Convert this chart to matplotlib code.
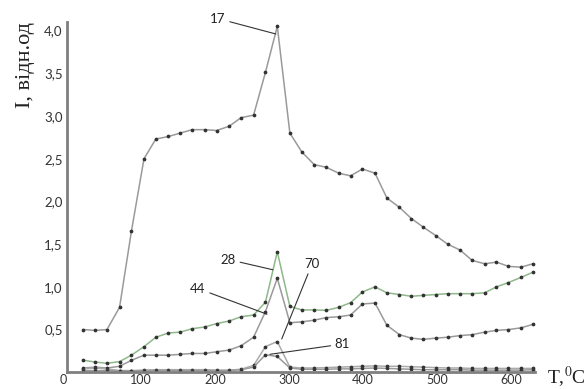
import numpy as np
import matplotlib.pyplot as plt

plt.rcParams['mathtext.fontset'] = 'stix'

# temperatures of the measured points, deg C
temp = [22, 38, 54, 71, 87, 104, 120, 137, 153, 169, 186, 202, 219, 235, 252,
        268, 284, 301, 317, 334, 350, 367, 383, 399, 416, 432, 449, 465, 481,
        498, 514, 531, 547, 564, 580, 596, 613, 629]

# intensities (relative units) for m/z 17, 28, 44, 70, 81
i17 = [0.50, 0.49, 0.50, 0.76, 1.65, 2.50, 2.73, 2.76, 2.80, 2.84, 2.84, 2.83,
       2.88, 2.98, 3.01, 3.51, 4.05, 2.80, 2.58, 2.43, 2.40, 2.33, 2.30, 2.38,
       2.33, 2.04, 1.93, 1.80, 1.70, 1.60, 1.50, 1.43, 1.31, 1.27, 1.29, 1.24,
       1.23, 1.27]
i28 = [0.14, 0.12, 0.105, 0.125, 0.20, 0.30, 0.41, 0.46, 0.47, 0.51, 0.53, 0.57,
       0.60, 0.65, 0.67, 0.82, 1.41, 0.77, 0.73, 0.73, 0.725, 0.76, 0.815, 0.94,
       1.00, 0.93, 0.91, 0.89, 0.90, 0.91, 0.92, 0.92, 0.92, 0.93, 1.00, 1.05,
       1.11, 1.17]
i44 = [0.05, 0.06, 0.05, 0.07, 0.14, 0.20, 0.20, 0.20, 0.21, 0.22, 0.22, 0.24,
       0.26, 0.31, 0.41, 0.71, 1.10, 0.58, 0.59, 0.61, 0.64, 0.65, 0.67, 0.80,
       0.81, 0.55, 0.44, 0.40, 0.385, 0.40, 0.41, 0.43, 0.44, 0.47, 0.49, 0.50,
       0.52, 0.56]
i70 = [0.04, 0.05, 0.04, 0.02, 0.02, 0.025, 0.03, 0.03, 0.03, 0.03, 0.03, 0.025,
       0.025, 0.035, 0.08, 0.30, 0.36, 0.06, 0.05, 0.05, 0.055, 0.06, 0.065,
       0.07, 0.075, 0.07, 0.07, 0.065, 0.06, 0.055, 0.05, 0.05, 0.045, 0.045,
       0.045, 0.045, 0.045, 0.045]
i81 = [0.02, 0.02, 0.02, 0.015, 0.015, 0.02, 0.02, 0.02, 0.02, 0.02, 0.02, 0.02,
       0.02, 0.03, 0.06, 0.205, 0.185, 0.05, 0.035, 0.035, 0.035, 0.04, 0.04,
       0.045, 0.05, 0.045, 0.04, 0.035, 0.03, 0.03, 0.03, 0.03, 0.025, 0.025,
       0.025, 0.025, 0.025, 0.03]

series = [i17, i28, i44, i70, i81]
names = ['17', '28', '44', '70', '81']
colors = ['#9a9a9a', '#8fb88b', '#9a9a9a', '#ababab', '#9a9a9a']

xticks = [0, 100, 200, 300, 400, 500, 600]
yticks = [0.5, 1.0, 1.5, 2.0, 2.5, 3.0, 3.5, 4.0]

fig = plt.figure(figsize=(5.87, 3.89), dpi=100)
ax = fig.add_axes([0.1141, 0.0430, 0.7973, 0.9004])

for vals, c in zip(series, colors):
    ax.plot(temp, vals, color=c, lw=1.1, marker='o', ms=1.7,
            mfc='#333333', mec='#333333', zorder=2)

# curve labels with leader lines
pointer_end = [(282, 3.96), (278, 1.20), (270, 0.68), (290, 0.39), (274, 0.21)]
text_pos = [(204, 4.14), (218, 1.32), (177, 0.98), (331, 1.27), (372, 0.33)]
for name, xy, xt in zip(names, pointer_end, text_pos):
    ax.annotate(name, xy=xy, xytext=xt, ha='center', va='center',
                fontsize=9.5, family='Lato', color='#222222',
                annotation_clip=False,
                arrowprops=dict(arrowstyle='-', color='#333333', lw=0.8,
                                shrinkA=1, shrinkB=0))

ax.set_xlim(0, 632)
ax.set_ylim(0, 4.1)

ax.set_xticks(xticks)
ax.set_xticklabels([str(t) for t in xticks])
ax.set_yticks(yticks)
ax.set_yticklabels([f'{v:.1f}'.replace('.', ',') for v in yticks])
ax.tick_params(length=0, labelsize=9.5, colors='#333333')
ax.tick_params(axis='x', pad=1.5, labelsize=9)
ax.tick_params(axis='y', pad=3)
for lab in ax.get_xticklabels() + ax.get_yticklabels():
    lab.set_family('Lato')
ax.get_xticklabels()[0].set_ha('right')

for s in ['top', 'right']:
    ax.spines[s].set_visible(False)
for s in ['left', 'bottom']:
    ax.spines[s].set_color('#7f7f7f')
    ax.spines[s].set_linewidth(2)

fig.text(0.043, 0.833, 'I, відн.од', rotation=90, ha='center', va='center',
         family='Liberation Serif', fontsize=16, color='#222222')
fig.text(0.932, 0.016, r'T,$^{0}$C', ha='left', va='baseline',
         family='Liberation Serif', fontsize=14, color='#222222')

fig.savefig('out.png', dpi=100)
